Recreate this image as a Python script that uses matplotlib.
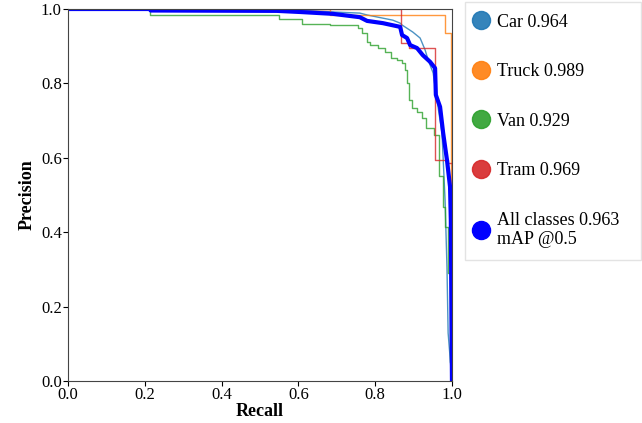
import matplotlib.pyplot as plt
from matplotlib.lines import Line2D

plt.rcParams['font.family'] = ['Liberation Serif', 'DejaVu Serif']

# Car (dense curve, drawn as a line)
car_r = [0.0, 0.40, 0.604, 0.690, 0.760, 0.779, 0.846, 0.865, 0.870, 0.898, 0.917,
         0.930, 0.938, 0.945, 0.951, 0.961, 0.974, 0.982, 0.987, 0.990, 1.0]
car_p = [1.0, 1.0, 0.997, 0.992, 0.989, 0.984, 0.970, 0.962, 0.957, 0.938, 0.922,
         0.890, 0.863, 0.844, 0.828, 0.755, 0.667, 0.487, 0.306, 0.129, 0.0]

# Truck (steps)
truck_r = [0.0, 0.682, 0.982, 0.997, 1.0]
truck_p = [1.0, 0.984, 0.935, 0.0, 0.0]

# Van (steps)
van_r = [0.0, 0.214, 0.549, 0.609, 0.682, 0.755, 0.766, 0.779, 0.786, 0.807, 0.826,
         0.841, 0.857, 0.870, 0.878, 0.883, 0.888, 0.896, 0.909, 0.922, 0.932, 0.953,
         0.966, 0.977, 0.982, 0.990, 0.995, 1.0]
van_p = [1.0, 0.984, 0.973, 0.960, 0.957, 0.949, 0.935, 0.911, 0.903, 0.895, 0.884,
         0.868, 0.863, 0.855, 0.836, 0.801, 0.755, 0.734, 0.723, 0.707, 0.680, 0.660,
         0.550, 0.468, 0.414, 0.290, 0.050, 0.0]

# Tram (steps)
tram_r = [0.0, 0.867, 0.888, 0.956, 0.990, 1.0]
tram_p = [1.0, 0.909, 0.895, 0.594, 0.586, 0.0]

# All classes mean curve
all_r = [0.0, 0.214, 0.215, 0.544, 0.604, 0.690, 0.760, 0.779, 0.820, 0.865, 0.870,
         0.883, 0.891, 0.909, 0.924, 0.943, 0.956, 0.958, 0.969, 0.977, 0.987, 0.995,
         0.997, 1.0]
all_p = [1.0, 1.0, 0.996, 0.995, 0.992, 0.987, 0.978, 0.968, 0.962, 0.952, 0.930,
         0.922, 0.903, 0.895, 0.876, 0.858, 0.841, 0.769, 0.737, 0.667, 0.594, 0.522,
         0.433, 0.0]

labels = ['Car 0.964', 'Truck 0.989', 'Van 0.929', 'Tram 0.969',
          'All classes 0.963\nmAP @0.5']
colors = ['#1f77b4', '#ff7f0e', '#2ca02c', '#d62728', 'blue']
ticks = [0.0, 0.2, 0.4, 0.6, 0.8, 1.0]

fig = plt.figure(figsize=(6.42, 4.23), dpi=100)
ax = fig.add_axes([0.106, 0.0993, 0.598, 0.8794])

ax.plot(car_r, car_p, color=colors[0], lw=1, alpha=0.8)
ax.plot(truck_r, truck_p, color=colors[1], lw=1, alpha=0.8, drawstyle='steps-post')
ax.plot(van_r, van_p, color=colors[2], lw=1, alpha=0.8, drawstyle='steps-post')
ax.plot(tram_r, tram_p, color=colors[3], lw=1, alpha=0.8, drawstyle='steps-post')
ax.plot(all_r, all_p, color=colors[4], lw=3)

ax.set_xlim(0, 1)
ax.set_ylim(0, 1)
ax.set_xticks(ticks)
ax.set_yticks(ticks)
ax.set_xticklabels([f'{t:.1f}' for t in ticks], fontsize=12)
ax.set_yticklabels([f'{t:.1f}' for t in ticks], fontsize=12)
ax.tick_params(pad=1)
for s in ax.spines.values():
    s.set_color('#444444')
ax.set_xlabel('Recall', fontsize=13, fontweight='bold', labelpad=0)
ax.set_ylabel('Precision', fontsize=13, fontweight='bold', labelpad=4)

handles = [Line2D([], [], ls='none', marker='o', markersize=13, color=c, alpha=0.9 if c != 'blue' else 1)
           for c in colors]
leg = ax.legend(handles, labels, loc='upper left', bbox_to_anchor=(1.034, 1.019, 0.458, 0),
                mode='expand', borderaxespad=0, fontsize=13, labelspacing=1.8,
                handlelength=0.5, handletextpad=0.6, borderpad=0.65,
                fancybox=False, frameon=True)
leg.get_frame().set_edgecolor('#dddddd')
leg.get_frame().set_linewidth(1)

fig.savefig('out.png', dpi=100)
